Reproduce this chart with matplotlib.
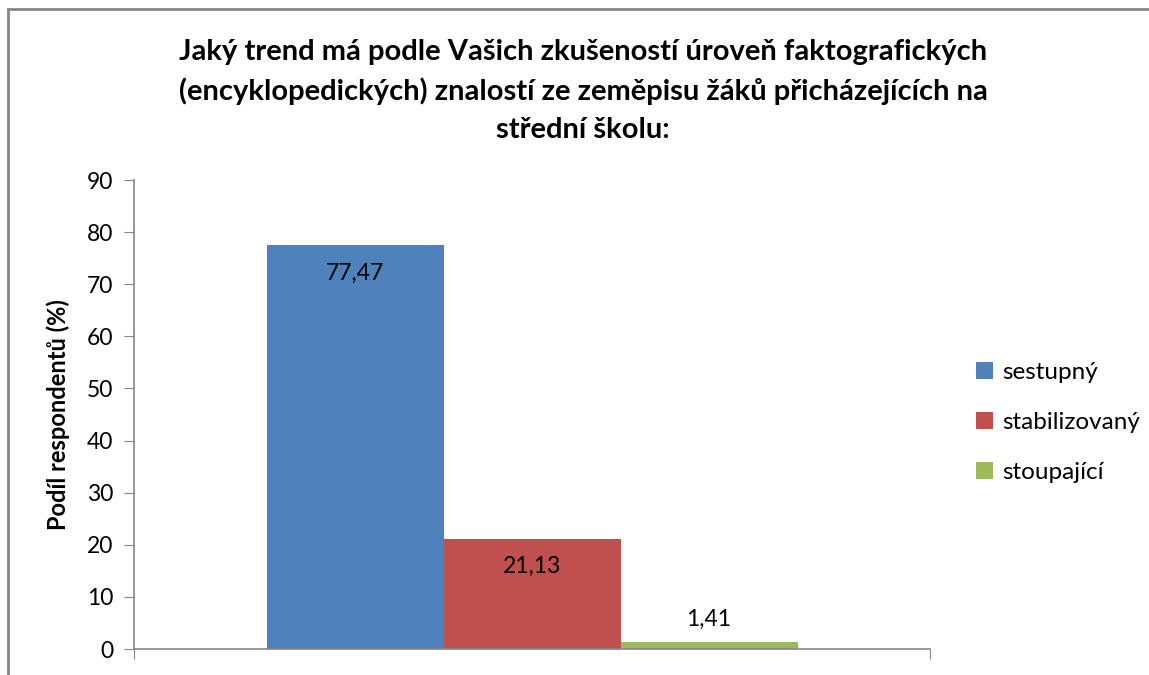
import matplotlib.pyplot as plt
from matplotlib.patches import Rectangle

# data
categories = ["sestupný", "stabilizovaný", "stoupající"]
values = [77.47, 21.13, 1.41]
value_labels = ["77,47", "21,13", "1,41"]
colors = ["#4F81BD", "#C0504D", "#9BBB59"]
yticks = [0, 10, 20, 30, 40, 50, 60, 70, 80, 90]

title = ("Jaký trend má podle Vašich zkušeností úroveň faktografických\n"
         "(encyklopedických) znalostí ze zeměpisu žáků přicházejících na\n"
         "střední školu:")

plt.rcParams["font.family"] = ["Lato", "DejaVu Sans"]

fig = plt.figure(figsize=(11.49, 6.75), dpi=100)
W, H = 1149, 675
ax = fig.add_axes([134 / W, 1 - 649 / H, (930 - 134) / W, (649 - 180) / H])

width = 177 / 796
positions = [(i - 1) * width for i in range(len(values))]
bars = ax.bar(positions, values, width=width, color=colors, label=categories)

for b, v, lab in zip(bars, values, value_labels):
    if v > 10:
        y = v - 5.3
    else:
        y = v + 4.2
    ax.text(b.get_x() + b.get_width() / 2, y, lab, ha="center", va="center",
            fontsize=16.5, color="black")

ax.set_xlim(-0.5, 0.5)
ax.set_ylim(0, 90)
ax.set_yticks(yticks)
ax.set_xticks([-0.5, 0.5])
ax.set_xticklabels([])
ax.tick_params(axis="x", length=7, color="#868686", direction="out")
ax.tick_params(axis="y", length=7, color="#868686", labelsize=16.5, pad=8)
for s in ["top", "right"]:
    ax.spines[s].set_visible(False)
for s in ["left", "bottom"]:
    ax.spines[s].set_color("#868686")
    ax.spines[s].set_linewidth(1.2)

ax.set_ylabel("Podíl respondentů (%)", fontsize=17, fontweight="bold", labelpad=12)
fig.text(583 / W, 1 - 91 / H, title, ha="center", va="center", fontsize=21,
         fontweight="bold", linespacing=1.55)

leg = fig.legend(handles=bars, labels=categories, loc="upper left",
                 bbox_to_anchor=(954 / W, 1 - 340 / H), frameon=False,
                 fontsize=17.5, handlelength=0.7, handleheight=0.7,
                 handletextpad=0.4, labelspacing=1.2)

# chart frame as in the original (cropped on right / bottom)
fig.patches.append(Rectangle((8 / W, -0.1), 1.2, 1 - 9 / H + 0.1, transform=fig.transFigure,
                             fill=False, edgecolor="#868686", linewidth=2))

fig.savefig("out.png", dpi=100)
